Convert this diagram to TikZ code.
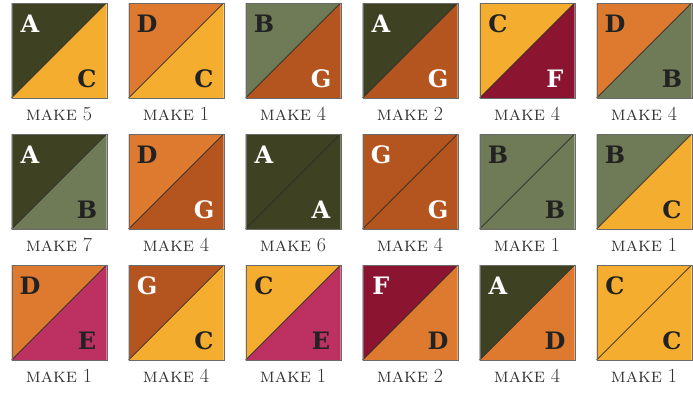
\documentclass[tikz,border=0pt]{standalone}
\usepackage{tikz}
\usepackage{fontspec}
\newfontfamily\letterfont{DejaVu Serif}
\definecolor{qA}{HTML}{3E4222}
\definecolor{qB}{HTML}{6F7A57}
\definecolor{qC}{HTML}{F5AD2F}
\definecolor{qD}{HTML}{DE7A2F}
\definecolor{qE}{HTML}{BD3162}
\definecolor{qF}{HTML}{8B1531}
\definecolor{qG}{HTML}{B4541F}
\definecolor{tA}{HTML}{FFFFFF}
\definecolor{tB}{HTML}{222222}
\definecolor{tC}{HTML}{222222}
\definecolor{tD}{HTML}{222222}
\definecolor{tE}{HTML}{222222}
\definecolor{tF}{HTML}{FFFFFF}
\definecolor{tG}{HTML}{FFFFFF}
\definecolor{labelgray}{HTML}{333333}
\definecolor{bordergray}{HTML}{6A6A6A}
\definecolor{diaggray}{HTML}{2A2A2A}
\begin{document}
\begin{tikzpicture}[x=1pt,y=-1pt,
  letter/.style={font=\letterfont\fontsize{24}{24}\selectfont\bfseries, anchor=base, inner sep=0pt},
  lbl/.style={font=\fontsize{20}{20}\selectfont, text=labelgray, anchor=base, inner sep=0pt},
  sqborder/.style={draw=bordergray, line width=0.9pt, minimum size=95pt, inner sep=0pt, anchor=north west},
  diag/.style={draw=diaggray, line width=0.7pt}]
\useasboundingbox (0,0) rectangle (693,394);
\foreach \ul/\lr/\n [count=\i from 0] in {
  A/C/5, D/C/1, B/G/4, A/G/2, C/F/4, D/B/4,
  A/B/7, D/G/4, A/A/6, G/G/4, B/B/1, B/C/1,
  D/E/1, G/C/4, C/E/1, F/D/2, A/D/4, C/C/1} {
  \pgfmathtruncatemacro\r{\i/6}
  \pgfmathtruncatemacro\c{mod(\i,6)}
  \pgfmathsetmacro\x{11.5+117*\c}
  \pgfmathsetmacro\y{3+131*\r}
  \begin{scope}[shift={(\x,\y)}]
    \fill[fill=q\ul] (0,0) -- (95,0) -- (0,95) -- cycle;
    \fill[fill=q\lr] (95,0) -- (95,95) -- (0,95) -- cycle;
    \coordinate (bl-\i) at (0,95);
    \coordinate (tr-\i) at (95,0);
    \draw[diag] (bl-\i) -- (tr-\i);
    \node[sqborder] (sq-\i) at (0,0) {};
    \node[letter, text=t\ul] (ul-\i) at (18.5,29.5) {\ul};
    \node[letter, text=t\lr] (lr-\i) at (75.5,84.5) {\lr};
    \node[lbl] (mk-\i) at (47.5,117) {\textsc{make} \n};
  \end{scope}
}
\end{tikzpicture}
\end{document}
